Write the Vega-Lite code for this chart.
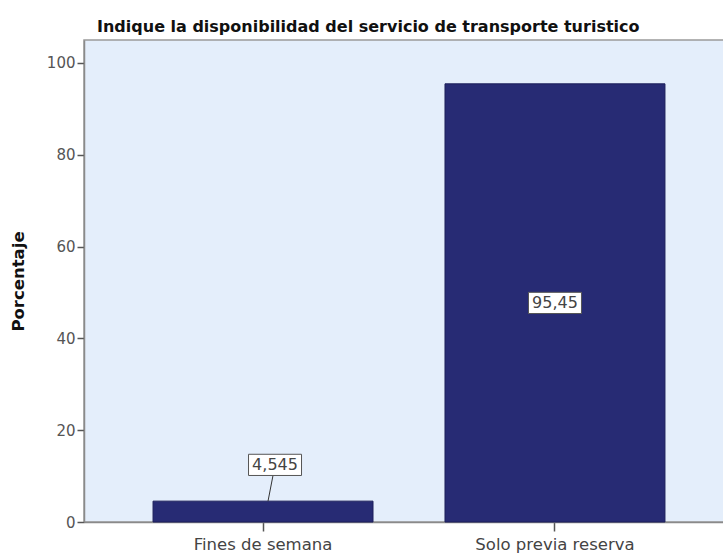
{
  "$schema": "https://vega.github.io/schema/vega-lite/v6.json",
  "autosize": "none",
  "width": 650,
  "height": 482,
  "padding": {"left": 84, "top": 40, "right": 0, "bottom": 35},
  "background": "white",
  "config": {
    "font": "DejaVu Sans",
    "view": {"fill": "#E4EEFB", "stroke": "#9A9A9A", "strokeWidth": 1.5}
  },
  "title": {
    "text": "Indique la disponibilidad del servicio de transporte turistico",
    "anchor": "start",
    "frame": "group",
    "fontSize": 16,
    "fontWeight": "bold",
    "color": "#111111",
    "offset": 5,
    "dx": 13
  },
  "data": {
    "values": [
      {"categoria": "Fines de semana", "porcentaje": 4.545, "etiqueta": "4,545"},
      {"categoria": "Solo previa reserva", "porcentaje": 95.45, "etiqueta": "95,45"}
    ]
  },
  "transform": [
    {"calculate": "datum.porcentaje < 10 ? datum.porcentaje + 7.9 : datum.porcentaje / 2", "as": "pos_etiqueta"}
  ],
  "encoding": {
    "x": {
      "field": "categoria",
      "type": "nominal",
      "sort": null,
      "scale": {"paddingInner": 0.2466, "paddingOuter": 0.2365},
      "axis": {
        "title": null,
        "labelAngle": 0,
        "labelFontSize": 16.5,
        "labelColor": "#444444",
        "labelPadding": 5,
        "tickSize": 9,
        "tickColor": "#555555",
        "tickWidth": 1.5,
        "domainColor": "#8A8A8A",
        "domainWidth": 1.5
      }
    }
  },
  "layer": [
    {
      "mark": {"type": "bar", "color": "#272B74", "stroke": "#1C1F5A", "strokeWidth": 1},
      "encoding": {
        "y": {
          "field": "porcentaje",
          "type": "quantitative",
          "scale": {"domain": [0, 105], "nice": false},
          "axis": {
            "title": "Porcentaje",
            "titleFontSize": 16.5,
            "titleFontWeight": "bold",
            "titleColor": "#111111",
            "titlePadding": 20,
            "values": [0, 20, 40, 60, 80, 100],
            "grid": false,
            "labelFontSize": 15,
            "labelColor": "#555555",
            "labelPadding": 2,
            "tickSize": 7,
            "tickColor": "#555555",
            "tickWidth": 1.5,
            "domainColor": "#8A8A8A",
            "domainWidth": 1.5
          }
        }
      }
    },
    {
      "transform": [{"filter": "datum.porcentaje < 10"}],
      "mark": {"type": "rule", "color": "#333333", "strokeWidth": 1, "xOffset": 5, "x2Offset": 10, "y2Offset": 10.5},
      "encoding": {
        "y": {"field": "porcentaje", "type": "quantitative"},
        "y2": {"field": "pos_etiqueta"},
        "x2": {"field": "categoria"}
      }
    },
    {
      "transform": [{"filter": "datum.porcentaje < 10"}],
      "mark": {
        "type": "point",
        "shape": "M-1,-0.4H1V0.4H-1Z",
        "size": 2809,
        "filled": true,
        "fill": "white",
        "stroke": "#555555",
        "strokeWidth": 1,
        "opacity": 1,
        "xOffset": 12
      },
      "encoding": {
        "y": {"field": "pos_etiqueta", "type": "quantitative"}
      }
    },
    {
      "transform": [{"filter": "datum.porcentaje < 10"}],
      "mark": {"type": "text", "fontSize": 16, "color": "#444444", "baseline": "middle", "align": "center", "xOffset": 12},
      "encoding": {
        "y": {"field": "pos_etiqueta", "type": "quantitative"},
        "text": {"field": "etiqueta"}
      }
    },
    {
      "transform": [{"filter": "datum.porcentaje >= 10"}],
      "mark": {
        "type": "point",
        "shape": "M-1,-0.4H1V0.4H-1Z",
        "size": 2809,
        "filled": true,
        "fill": "white",
        "stroke": "#555555",
        "strokeWidth": 1,
        "opacity": 1
      },
      "encoding": {
        "y": {"field": "pos_etiqueta", "type": "quantitative"}
      }
    },
    {
      "transform": [{"filter": "datum.porcentaje >= 10"}],
      "mark": {"type": "text", "fontSize": 16, "color": "#444444", "baseline": "middle", "align": "center"},
      "encoding": {
        "y": {"field": "pos_etiqueta", "type": "quantitative"},
        "text": {"field": "etiqueta"}
      }
    }
  ]
}
